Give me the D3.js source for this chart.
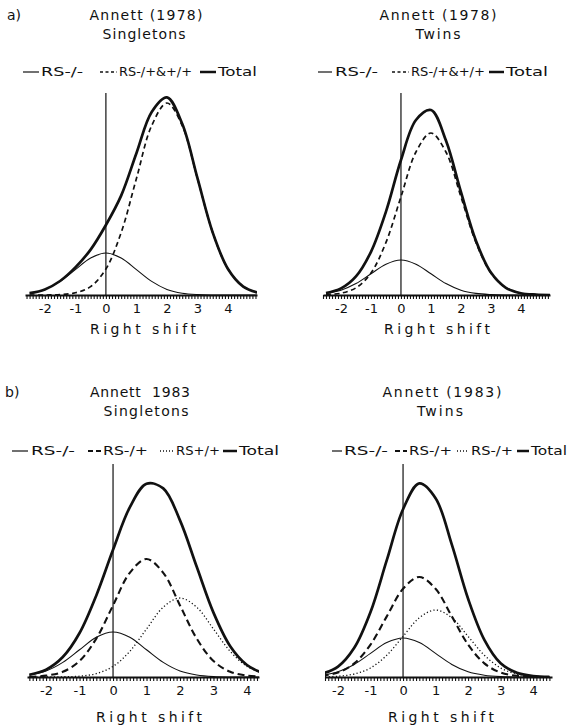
<!DOCTYPE html>
<html>
<head>
<meta charset="utf-8">
<script src="https://cdnjs.cloudflare.com/ajax/libs/d3/7.8.5/d3.min.js"></script>
<style>
  body { margin: 0; background: #fff; }
  svg { display: block; font-family: "DejaVu Sans", sans-serif; }
  text { fill: #111; }
</style>
</head>
<body>
<svg id="fig" width="570" height="726"></svg>
<script>
// right shift values the curves were read at
const xsTop = [-2.5, -2, -1.5, -1, -0.5, 0, 0.5, 1, 1.5, 2, 2.5, 3, 3.5, 4, 4.5, 5];
const xsBottom = [-2.5, -2, -1.5, -1, -0.5, 0, 0.5, 1, 1.5, 2, 2.5, 3, 3.5, 4, 4.5];
const tickLabels = [-2, -1, 0, 1, 2, 3, 4];

// a) Annett (1978) singletons
const singles78Neg = [0.9, 2.8, 6.8, 12.7, 18.5, 21, 18.5, 12.7, 6.8, 2.8, 0.9, 0.2, 0, 0, 0, 0];
const singles78Pos = [0, 0, 0.2, 1.1, 4.2, 13.0, 31.2, 58.2, 84.7, 96, 84.7, 58.2, 31.2, 13.0, 4.2, 1.1];
const singles78Total = [0.9, 2.8, 7.0, 13.8, 22.7, 35.0, 49.7, 70.9, 91.5, 98.8, 85.6, 58.4, 31.2, 13.0, 4.2, 1.1];

// a) Annett (1978) twins
const twins78Neg = [0.8, 2.4, 5.7, 10.6, 15.4, 17.5, 15.4, 10.6, 5.7, 2.4, 0.8, 0.2, 0, 0, 0, 0];
const twins78Pos = [0.2, 0.9, 3.6, 11.0, 26.3, 49.1, 71.5, 81, 71.5, 49.1, 26.3, 11.0, 3.6, 0.9, 0.2, 0];
const twins78Total = [1.0, 3.3, 9.3, 21.6, 41.7, 67.5, 87.5, 92.5, 77.2, 51.5, 27.1, 11.2, 3.6, 0.9, 0.2, 0];

// b) Annett 1983 singletons
const singles83Neg = [1.0, 3.0, 7.3, 13.6, 19.9, 22.5, 19.9, 13.6, 7.3, 3.0, 1.0, 0.2, 0, 0, 0];
const singles83Het = [0.1, 0.7, 2.6, 8.0, 19.2, 35.8, 52.1, 59, 52.1, 35.8, 19.2, 8.0, 2.6, 0.7, 0.1];
const singles83Hom = [0, 0, 0.1, 0.4, 1.7, 5.3, 12.8, 24.0, 34.9, 39.5, 34.9, 24.0, 12.8, 5.3, 1.7];
const singles83Total = [1.1, 3.7, 10.0, 22.0, 40.8, 63.6, 84.8, 96.6, 94.3, 78.3, 55.1, 32.2, 15.4, 6.0, 1.8];

// b) Annett (1983) twins
const twins83Neg = [0.9, 2.6, 6.3, 11.8, 17.2, 19.5, 17.2, 11.8, 6.3, 2.6, 0.9, 0.2, 0, 0, 0];
const twins83Het = [0.6, 2.2, 6.8, 16.2, 30.3, 44.1, 50, 44.1, 30.3, 16.2, 6.8, 2.2, 0.6, 0.1, 0];
const twins83Hom = [0.1, 0.4, 1.5, 4.5, 10.9, 20.3, 29.6, 33.5, 29.6, 20.3, 10.9, 4.5, 1.5, 0.4, 0.1];
const twins83Total = [1.6, 5.2, 14.6, 32.5, 58.4, 83.9, 96.8, 89.4, 66.2, 39.1, 18.6, 6.9, 2.1, 0.5, 0.1];

// line looks
const looks = {
  thin:  { w: 1.1, dash: null },
  dashA: { w: 1.7, dash: '5,3.5' },
  dashB: { w: 2.1, dash: '7,4' },
  dot:   { w: 1.3, dash: '1.2,2.3' },
  total: { w: 2.7, dash: null }
};
const legendLooks = {
  thin:  { w: 1.2, dash: null },
  dashA: { w: 1.4, dash: '3,2.5' },
  dashB: { w: 1.9, dash: '5,3' },
  dot:   { w: 1.3, dash: '1,2' },
  total: { w: 2.5, dash: null }
};

const svg = d3.select('#fig');
const defs = svg.append('defs');

/** One density panel. */
class Panel {
  constructor(cfg) {
    this.cfg = cfg;
    this.x = d3.scaleLinear().domain(cfg.domain).range(cfg.range);
    this.y = d3.scaleLinear().domain([0, 100]).range([cfg.base, cfg.base - 200]);
  }

  draw() {
    const c = this.cfg, x = this.x, y = this.y;
    const g = svg.append('g');

    // titles
    c.titles.forEach((t, i) => {
      g.append('text')
        .attr('x', t.cx).attr('y', c.titleY + i * 19)
        .attr('text-anchor', 'middle')
        .attr('font-size', 14)
        .attr('textLength', t.len)
        .attr('lengthAdjust', 'spacing')
        .style('white-space', 'pre')
        .text(t.text)
      ;
    });

    // legend
    c.legend.forEach(e => {
      const lk = legendLooks[e.look];
      g.append('line')
        .attr('x1', e.x0).attr('x2', e.x1)
        .attr('y1', c.legendY).attr('y2', c.legendY)
        .attr('stroke', '#111')
        .attr('stroke-width', lk.w)
        .attr('stroke-dasharray', lk.dash)
      ;
      g.append('text')
        .attr('x', e.tx).attr('y', c.legendY + 4.4)
        .attr('font-size', 12.5)
        .attr('textLength', e.tw)
        .attr('lengthAdjust', 'spacingAndGlyphs')
        .text(e.label)
      ;
    });

    // vertical line at 0
    g.append('line')
      .attr('x1', x(0)).attr('x2', x(0))
      .attr('y1', c.vTop).attr('y2', c.base)
      .attr('stroke', '#111')
      .attr('stroke-width', 1.2)
    ;

    // curves
    const clipId = 'clip-' + c.key;
    defs.append('clipPath').attr('id', clipId)
      .append('rect')
      .attr('x', c.range[0]).attr('y', c.base - 240)
      .attr('width', c.range[1] - c.range[0]).attr('height', 241)
    ;
    const line = d3.line()
      .x(d => x(d[0]))
      .y(d => y(Math.max(0, d[1])))
      .curve(d3.curveCatmullRom.alpha(0.5))
    ;
    const curves = g.append('g').attr('clip-path', `url(#${clipId})`);
    c.series.forEach(s => {
      const lk = looks[s.look];
      curves.append('path')
        .datum(d3.zip(c.xs, s.values))
        .attr('d', line)
        .attr('fill', 'none')
        .attr('stroke', '#111')
        .attr('stroke-width', lk.w)
        .attr('stroke-dasharray', lk.dash)
        .attr('stroke-linejoin', 'round')
      ;
    });

    // axis: ruler ticks, then number labels
    const minor = d3.range(Math.ceil(c.domain[0] * 10), Math.floor(c.domain[1] * 10) + 1).map(v => v / 10);
    g.append('g')
      .attr('transform', `translate(0,${c.base})`)
      .call(d3.axisBottom(x).tickValues(minor).tickSize(4).tickSizeOuter(0).tickFormat(''))
      .call(a => a.select('.domain').attr('stroke', '#111').attr('stroke-width', 2.2))
      .call(a => a.selectAll('.tick line').attr('stroke', '#111').attr('stroke-width', 1.1))
    ;
    g.append('g')
      .attr('transform', `translate(0,${c.base})`)
      .call(d3.axisBottom(x).tickValues(tickLabels).tickSize(0).tickPadding(9).tickFormat(d => String(d)))
      .attr('font-family', '"DejaVu Sans", sans-serif')
      .attr('font-size', 13)
      .call(a => a.select('.domain').remove())
      .call(a => a.selectAll('text').attr('fill', '#111'))
    ;

    g.append('text')
      .attr('x', c.xLabel.cx).attr('y', c.xLabel.y)
      .attr('text-anchor', 'middle')
      .attr('font-size', 14)
      .attr('textLength', 106)
      .attr('lengthAdjust', 'spacing')
      .text('Right shift')
    ;
  }
}

const panels = [
  {
    key: 'a1', xs: xsTop, domain: [-2.65, 4.95], range: [25, 257], base: 295, vTop: 93,
    titleY: 20, legendY: 72, xLabel: { cx: 143, y: 334 },
    titles: [{ text: 'Annett (1978)', cx: 146, len: 113 }, { text: 'Singletons', cx: 144, len: 83 }],
    legend: [
      { look: 'thin', x0: 23, x1: 39, tx: 41, tw: 42, label: 'RS-/-' },
      { look: 'dashA', x0: 100, x1: 117, tx: 119, tw: 73, label: 'RS-/+&+/+' },
      { look: 'total', x0: 200, x1: 216, tx: 218, tw: 39, label: 'Total' }
    ],
    series: [
      { look: 'thin', values: singles78Neg },
      { look: 'dashA', values: singles78Pos },
      { look: 'total', values: singles78Total }
    ]
  },
  {
    key: 'a2', xs: xsTop, domain: [-2.6, 4.97], range: [323, 550], base: 295, vTop: 93,
    titleY: 20, legendY: 72, xLabel: { cx: 437, y: 334 },
    titles: [{ text: 'Annett (1978)', cx: 438, len: 117 }, { text: 'Twins', cx: 438, len: 45 }],
    legend: [
      { look: 'thin', x0: 318, x1: 332, tx: 335, tw: 43, label: 'RS-/-' },
      { look: 'dashA', x0: 392, x1: 409, tx: 411, tw: 74, label: 'RS-/+&+/+' },
      { look: 'total', x0: 489, x1: 504, tx: 506, tw: 42, label: 'Total' }
    ],
    series: [
      { look: 'thin', values: twins78Neg },
      { look: 'dashA', values: twins78Pos },
      { look: 'total', values: twins78Total }
    ]
  },
  {
    key: 'b1', xs: xsBottom, domain: [-2.57, 4.36], range: [27, 259], base: 677, vTop: 464,
    titleY: 397, legendY: 451, xLabel: { cx: 149, y: 722 },
    titles: [{ text: 'Annett  1983', cx: 140, len: 100 }, { text: 'Singletons', cx: 146, len: 85 }],
    legend: [
      { look: 'thin', x0: 12, x1: 28, tx: 31, tw: 44, label: 'RS-/-' },
      { look: 'dashB', x0: 88, x1: 101, tx: 103, tw: 45, label: 'RS-/+' },
      { look: 'dot', x0: 160, x1: 174, tx: 176, tw: 44, label: 'RS+/+' },
      { look: 'total', x0: 223, x1: 237, tx: 239, tw: 40, label: 'Total' }
    ],
    series: [
      { look: 'thin', values: singles83Neg },
      { look: 'dashB', values: singles83Het },
      { look: 'dot', values: singles83Hom },
      { look: 'total', values: singles83Total }
    ]
  },
  {
    key: 'b2', xs: xsBottom, domain: [-2.4, 4.58], range: [325, 552], base: 677, vTop: 464,
    titleY: 397, legendY: 451, xLabel: { cx: 441, y: 722 },
    titles: [{ text: 'Annett (1983)', cx: 442, len: 119 }, { text: 'Twins', cx: 440, len: 46 }],
    legend: [
      { look: 'thin', x0: 332, x1: 342, tx: 344, tw: 44, label: 'RS-/-' },
      { look: 'dashB', x0: 395, x1: 407, tx: 409, tw: 43, label: 'RS-/+' },
      { look: 'dot', x0: 457, x1: 469, tx: 471, tw: 42, label: 'RS-/+' },
      { look: 'total', x0: 517, x1: 529, tx: 531, tw: 36, label: 'Total' }
    ],
    series: [
      { look: 'thin', values: twins83Neg },
      { look: 'dashB', values: twins83Het },
      { look: 'dot', values: twins83Hom },
      { look: 'total', values: twins83Total }
    ]
  }
];

panels.forEach(p => new Panel(p).draw());

// panel letters
svg.append('text').attr('x', 7).attr('y', 20).attr('font-size', 14).text('a)');
svg.append('text').attr('x', 5).attr('y', 397).attr('font-size', 14).text('b)');
</script>
</body>
</html>
